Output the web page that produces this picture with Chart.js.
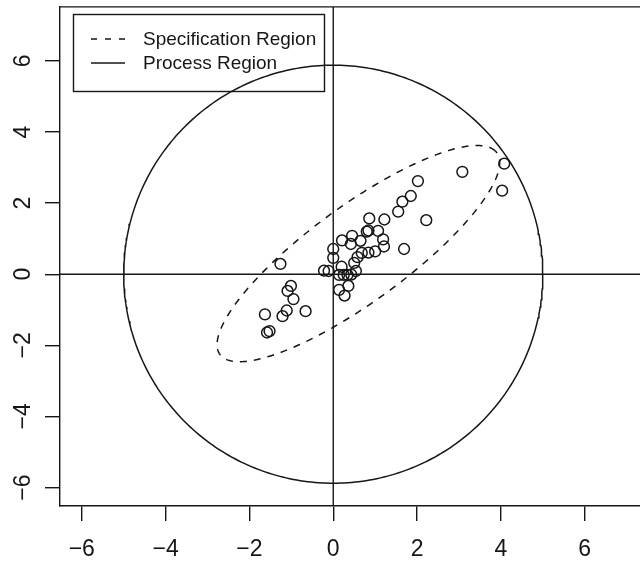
<!DOCTYPE html>
<html>
<head>
<meta charset="utf-8">
<script src="https://cdn.jsdelivr.net/npm/chart.js@4/dist/chart.umd.min.js"></script>
<style>
  html, body { margin: 0; padding: 0; background: #fff; overflow: hidden; }
  #wrap { width: 640px; height: 564px; overflow: hidden; }
  canvas { display: block; }
</style>
</head>
<body>
<div id="wrap"><canvas id="chart" width="660" height="564"></canvas></div>
<script>
const obsX = [4.08, 3.08, 4.03, 2.02, 1.85, 1.65, 1.55, 2.22, 1.22, 0.86,
  0.80, 0.84, 1.07, 0.45, 0.21, 0.42, 0.65, 1.19, 1.21, 1.00,
  0.84, 0.68, 0.58, 1.69, 0.00, 0.00, 0.50, 0.54, 0.20, -0.22,
  -0.11, 0.14, 0.25, 0.34, 0.43, 0.36, 0.14, 0.27, -1.26, -1.01,
  -1.09, -0.95, -0.66, -1.11, -1.21, -1.63, -1.58, -1.52];
const obsY = [3.11, 2.88, 2.35, 2.62, 2.20, 2.04, 1.76, 1.52, 1.54, 1.57,
  1.20, 1.23, 1.22, 1.08, 0.95, 0.85, 0.94, 0.98, 0.78, 0.64,
  0.61, 0.60, 0.48, 0.71, 0.71, 0.46, 0.32, 0.09, 0.21, 0.10,
  0.09, -0.02, -0.02, -0.02, -0.01, -0.33, -0.44, -0.60, 0.29, -0.33,
  -0.47, -0.70, -1.04, -1.02, -1.18, -1.13, -1.64, -1.60];

// specification region (ellipse): centre, semi axes, angle in degrees
const specCenter = [0.6, 0.58];
const specAxes = [4.36, 1.27];
const specAngle = 41.5;
// process region: centred at origin
const processAxes = [5.0, 5.88];

const xTicks = [-6, -4, -2, 0, 2, 4, 6];
const yTicks = [-6, -4, -2, 0, 2, 4, 6];
const legendLabels = ["Specification Region", "Process Region"];

const ink = "#161616";
const fontFam = "'Liberation Sans', Arial, Helvetica, sans-serif";

function fmt(v) {
  return v < 0 ? "\u2212" + Math.abs(v) : String(v);
}

function ellipsePts(c, ax, angDeg, n) {
  const a = angDeg * Math.PI / 180;
  const out = [];
  for (let i = 0; i <= n; i++) {
    const t = 2 * Math.PI * i / n;
    const u = ax[0] * Math.cos(t), w = ax[1] * Math.sin(t);
    out.push({
      x: c[0] + u * Math.cos(a) - w * Math.sin(a),
      y: c[1] + u * Math.sin(a) + w * Math.cos(a),
    });
  }
  return out;
}

const points = obsX.map((x, i) => ({ x, y: obsY[i] }));

// box top, zero lines, rotated y labels and the legend
const extras = {
  id: "extras",
  beforeDatasetsDraw(chart) {
    const { ctx, chartArea: ca, scales } = chart;
    const x0 = scales.x.getPixelForValue(0);
    const y0 = scales.y.getPixelForValue(0);
    ctx.save();
    ctx.strokeStyle = ink;
    ctx.lineWidth = 1.4;
    ctx.beginPath();
    ctx.moveTo(ca.left, ca.top);
    ctx.lineTo(ca.right, ca.top);
    ctx.moveTo(ca.left, y0);
    ctx.lineTo(ca.right, y0);
    ctx.moveTo(x0, ca.top);
    ctx.lineTo(x0, ca.bottom);
    ctx.stroke();
    ctx.restore();
  },
  afterDraw(chart) {
    const { ctx, scales } = chart;
    ctx.save();
    ctx.fillStyle = ink;
    ctx.font = "23px " + fontFam;
    ctx.textAlign = "center";
    ctx.textBaseline = "middle";
    yTicks.forEach((v) => {
      const py = scales.y.getPixelForValue(v);
      ctx.save();
      ctx.translate(24, py);
      ctx.rotate(-Math.PI / 2);
      ctx.fillText(fmt(v), 0, 0);
      ctx.restore();
    });

    // legend
    ctx.strokeStyle = ink;
    ctx.lineWidth = 1.4;
    ctx.strokeRect(73.5, 14.5, 251, 77);
    ctx.font = "19px " + fontFam;
    ctx.textAlign = "left";
    const rows = [39, 63];
    legendLabels.forEach((lab, i) => {
      ctx.setLineDash(i === 0 ? [6, 8] : []);
      ctx.beginPath();
      ctx.moveTo(91, rows[i]);
      ctx.lineTo(125, rows[i]);
      ctx.stroke();
      ctx.fillText(lab, 143, rows[i] + 1);
    });
    ctx.restore();
  },
};

new Chart(document.getElementById("chart"), {
  type: "scatter",
  data: {
    datasets: [
      {
        label: legendLabels[0],
        data: ellipsePts(specCenter, specAxes, specAngle, 240),
        showLine: true,
        pointRadius: 0,
        borderColor: ink,
        borderWidth: 1.5,
        borderDash: [7, 7],
        fill: false,
      },
      {
        label: legendLabels[1],
        data: ellipsePts([0, 0], processAxes, 0, 360),
        showLine: true,
        pointRadius: 0,
        borderColor: ink,
        borderWidth: 1.5,
        fill: false,
      },
      {
        label: "obs",
        data: points,
        pointRadius: 5.4,
        pointBorderWidth: 1.5,
        borderColor: ink,
        backgroundColor: "rgba(0,0,0,0)",
      },
    ],
  },
  options: {
    responsive: false,
    animation: false,
    devicePixelRatio: 1,
    layout: { padding: { top: 4, right: 11.6, left: 0, bottom: 0 } },
    plugins: { legend: { display: false }, tooltip: { enabled: false } },
    scales: {
      x: {
        type: "linear",
        min: -6.52,
        max: 7.52,
        afterBuildTicks: (s) => { s.ticks = xTicks.map((v) => ({ value: v })); },
        afterFit: (s) => { s.height = 58; },
        grid: { drawOnChartArea: false, drawTicks: true, tickLength: 15, color: ink, lineWidth: 1.4 },
        border: { display: true, color: ink, width: 1.4 },
        ticks: {
          color: ink,
          padding: 15,
          maxRotation: 0,
          autoSkip: false,
          font: { size: 23, family: fontFam },
          callback: (v) => fmt(v),
        },
      },
      y: {
        type: "linear",
        min: -6.52,
        max: 7.52,
        afterBuildTicks: (s) => { s.ticks = yTicks.map((v) => ({ value: v })); },
        afterFit: (s) => { s.width = 60; },
        grid: { drawOnChartArea: false, drawTicks: true, tickLength: 15, color: ink, lineWidth: 1.4 },
        border: { display: true, color: ink, width: 1.4 },
        ticks: { display: false },
      },
    },
  },
  plugins: [extras],
});
</script>
</body>
</html>
